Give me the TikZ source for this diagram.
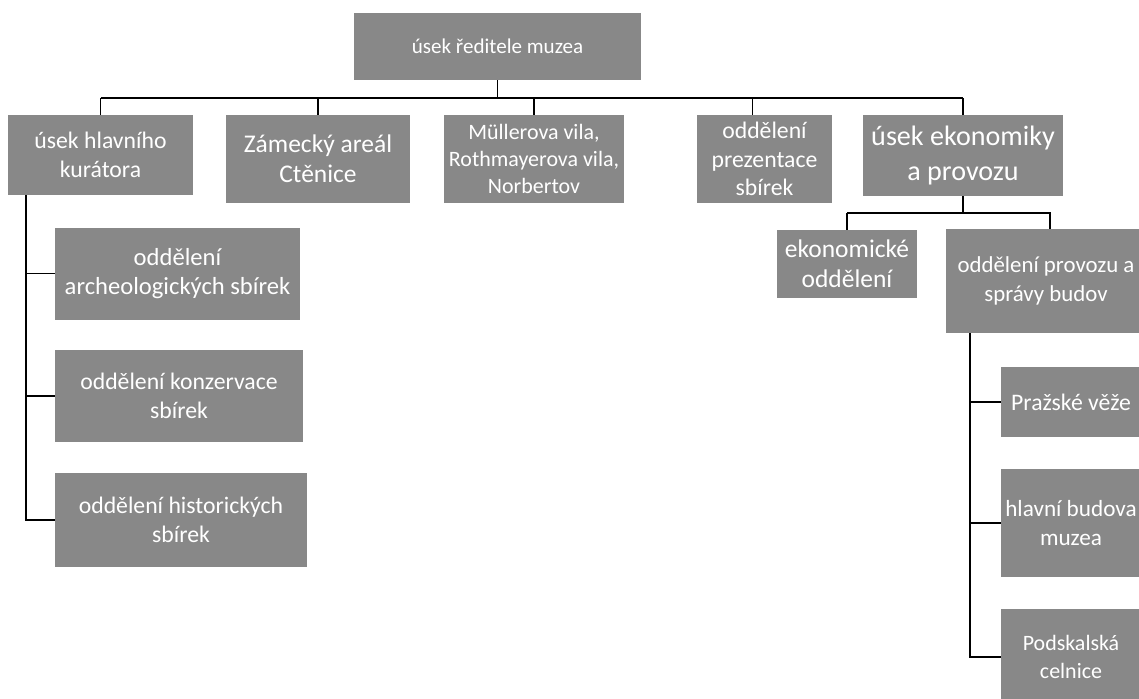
\documentclass[tikz,border=0pt]{standalone}
\usepackage{fontspec}
\setmainfont{Carlito}
\usetikzlibrary{calc}

\definecolor{boxgray}{RGB}{136,136,136}

\tikzset{
  dept/.style 2 args={fill=boxgray, text=white, align=center, inner sep=1pt,
    minimum width=#1*0.02cm, minimum height=#2*0.02cm,
    font=\fontsize{13.5}{16.2}\selectfont},
  link/.style={draw=black, line width=0.8pt}
}

\begin{document}
\begin{tikzpicture}[x=0.02cm,y=-0.02cm]
    % Page frame (one unit = one pixel of the scan)
    \clip (0,0) rectangle (1139,698);
    \fill[white] (0,0) rectangle (1139,698);

    % Top level
    \node[dept={287}{67}, font=\fontsize{12}{14.5}\selectfont] (dir) at (497.5,46.5) {úsek ředitele muzea};

    % Second level
    \node[dept={185}{80}] (kur) at (100.5,155) {úsek hlavního\\kurátora};
    \node[dept={184}{88}, font=\fontsize{14.5}{17}\selectfont] (zam) at (318,159) {Zámecký areál\\Ctěnice};
    \node[dept={180}{88}, font=\fontsize{12.5}{15.5}\selectfont] (mul) at (534,159) {Müllerova vila,\\Rothmayerova vila,\\Norbertov};
    \node[dept={135}{88}] (prez) at (764.5,159) {oddělení\\prezentace\\sbírek};
    \node[dept={200}{81}, font=\fontsize{16}{20}\selectfont] (ekon) at (963,155.5) {úsek ekonomiky\\a provozu};

    % Under the chief curator
    \node[dept={245}{92}, font=\fontsize{14}{17}\selectfont] (arch) at (177.5,273.5) {oddělení\\archeologických sbírek};
    \node[dept={248}{92}] (konz) at (179,396) {oddělení konzervace\\sbírek};
    \node[dept={252}{94}] (hist) at (181,520) {oddělení historických\\sbírek};

    % Under economy and operation
    \node[dept={140}{68}, font=\fontsize{14.5}{17}\selectfont] (ekoodd) at (847,264) {ekonomické\\oddělení};
    \node[dept={200}{104}, font=\fontsize{13}{16.2}\selectfont] (prov) at (1046,281) {oddělení provozu a\\správy budov};
    \node[dept={140}{70}] (praz) at (1071,402) {Pražské věže};
    \node[dept={140}{108}, font=\fontsize{13.2}{16.2}\selectfont] (hlav) at (1071,523) {hlavní budova\\muzea};
    \node[dept={140}{96}, font=\fontsize{12.5}{15.5}\selectfont] (pods) at (1071,657) {Podskalská\\celnice};

    % Bus lines
    \coordinate (bus) at (0,98);
    \coordinate (sub) at (0,213);
    \coordinate (spineL) at (26,0);
    \coordinate (spineR) at (970,0);

    % Director to second level
    \draw[link] (dir.south) -- (dir.south |- bus);
    \draw[link] (kur.north |- bus) -- (ekon.north |- bus);
    \foreach \n in {kur,zam,mul,ekon}
        \draw[link] (\n.north |- bus) -- (\n.north);
    \draw[link] ($(prez.north |- bus)+(-12,0)$) -- ($(prez.north)+(-12,0)$);

    % Chief curator branch
    \draw[link] (spineL |- kur.south) -- (spineL |- hist.west) -- (hist.west);
    \foreach \n in {arch,konz}
        \draw[link] (spineL |- \n.west) -- (\n.west);

    % Economy branch
    \draw[link] (ekon.south) -- (ekon.south |- sub);
    \draw[link] (ekoodd.north |- sub) -- ($(prov.north |- sub)+(4,0)$) -- ($(prov.north)+(4,0)$);
    \draw[link] (ekoodd.north |- sub) -- (ekoodd.north);

    % Buildings
    \draw[link] (spineR |- prov.south) -- (spineR |- pods.west) -- (pods.west);
    \foreach \n in {praz,hlav}
        \draw[link] (spineR |- \n.west) -- (\n.west);
\end{tikzpicture}
\end{document}
